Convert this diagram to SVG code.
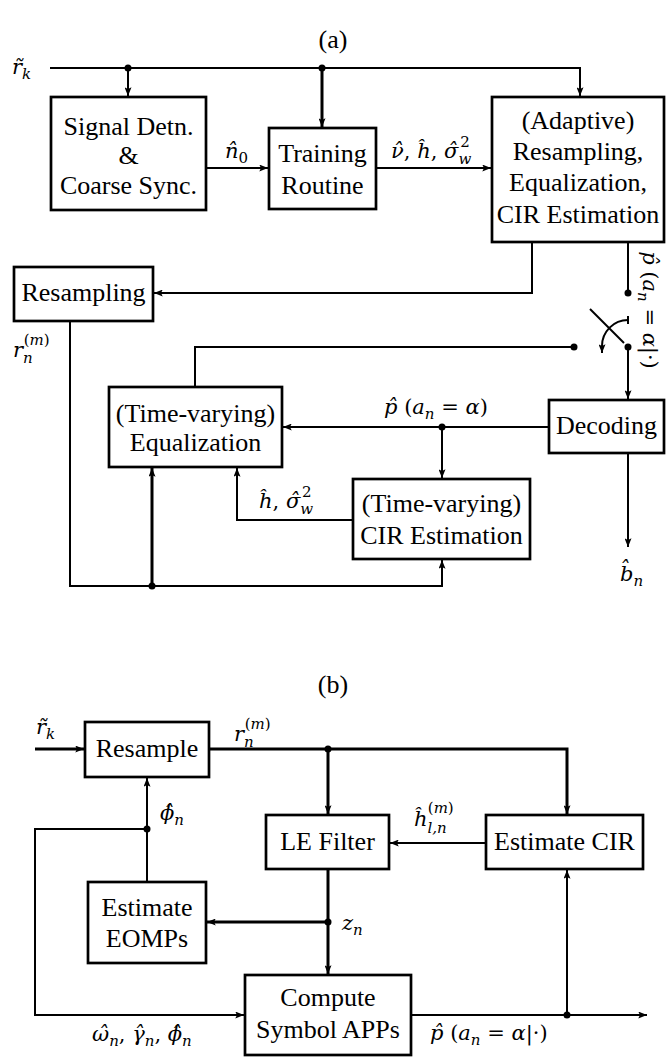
<svg xmlns="http://www.w3.org/2000/svg" width="666" height="1057" viewBox="0 0 666 1057" font-family="Liberation Serif, serif">
<style>
.bx{fill:#fff;stroke:#000;stroke-width:2.7}
.nd text,.ttl{font-family:"Liberation Serif","Times New Roman",serif;font-size:26px;text-anchor:middle;fill:#000}
.m{font-family:"DejaVu Serif","Liberation Serif",serif;font-size:21px;font-style:italic;fill:#000}
.up{font-style:normal}
.s{font-size:15px}
.c path{fill:none;stroke:#000;stroke-width:2}
.c path.k{stroke-width:3}
.c circle{fill:#000}
</style>
<defs>
<marker id="a" viewBox="0 0 10 8" refX="10" refY="4" markerWidth="9" markerHeight="7" markerUnits="userSpaceOnUse" orient="auto"><path d="M0,0 L10,4 L0,8 L2,4 z" fill="#000"/></marker>
</defs>

<text class="ttl" x="333" y="48">(a)</text>
<text class="ttl" x="333" y="693">(b)</text>

<g class="c" id="connectors">
<path d="M50,68 H580 V96" marker-end="url(#a)"/>
<path d="M128,68 V96" marker-end="url(#a)"/>
<path class="k" d="M322,68 V127" marker-end="url(#a)"/>
<path d="M206,168 H268" marker-end="url(#a)"/>
<path d="M376,168 H491" marker-end="url(#a)"/>
<path d="M532,242 V293 H154" marker-end="url(#a)"/>
<path d="M628,242 V293"/>
<path d="M590,309 L624,343"/>
<path d="M628,316 V324"/>
<path d="M628,320 A26,26 0 0 0 602,346 V353" marker-end="url(#a)"/>
<path d="M574,347 H195 V387"/>
<path d="M628,347 V399" marker-end="url(#a)"/>
<path d="M549,427 H283" marker-end="url(#a)"/>
<path d="M442,427 V478" marker-end="url(#a)"/>
<path d="M353,520 H237 V468" marker-end="url(#a)"/>
<path d="M70,321 V586 H442 V560" marker-end="url(#a)"/>
<path class="k" d="M152,586 V468" marker-end="url(#a)"/>
<path d="M628,453 V547" marker-end="url(#a)"/>
<circle cx="128" cy="68" r="3.5"/>
<circle cx="322" cy="68" r="3.5"/>
<circle cx="628" cy="293" r="3.5"/>
<circle cx="574" cy="347" r="3.5"/>
<circle cx="628" cy="347" r="3.5"/>
<circle cx="442" cy="427" r="3.5"/>
<circle cx="152" cy="586" r="3.5"/>

<path class="k" d="M35,749 H84" marker-end="url(#a)"/>
<path class="k" d="M209,749 H567 V814" marker-end="url(#a)"/>
<path class="k" d="M328,749 V814" marker-end="url(#a)"/>
<path d="M486,843 H390" marker-end="url(#a)"/>
<path class="k" d="M328,869 V974" marker-end="url(#a)"/>
<path class="k" d="M328,922 H207" marker-end="url(#a)"/>
<path d="M147,882 V778" marker-end="url(#a)"/>
<path d="M147,829 H35 V1015 H244" marker-end="url(#a)"/>
<path d="M411,1015 H647" marker-end="url(#a)"/>
<path d="M567,1015 V870" marker-end="url(#a)"/>
<circle cx="328" cy="749" r="3.5"/>
<circle cx="328" cy="922" r="3.5"/>
<circle cx="147" cy="829" r="3.5"/>
<circle cx="567" cy="1015" r="3.5"/>
</g>

<g id="sigdet" class="nd"><rect class="bx" x="51" y="97" width="155" height="113"/>
<text x="128.5" y="135">Signal Detn.</text><text x="128.5" y="164">&amp;</text><text x="128.5" y="194">Coarse Sync.</text></g>
<g id="training" class="nd"><rect class="bx" x="269" y="128" width="107" height="81"/>
<text x="322.5" y="162">Training</text><text x="322.5" y="194">Routine</text></g>
<g id="adaptive" class="nd"><rect class="bx" x="492" y="97" width="172" height="145"/>
<text x="578" y="129">(Adaptive)</text><text x="578" y="160">Resampling,</text><text x="578" y="191">Equalization,</text><text x="578" y="223">CIR Estimation</text></g>
<g id="resampling" class="nd"><rect class="bx" x="14" y="267" width="139" height="54"/>
<text x="83.5" y="301">Resampling</text></g>
<g id="tveq" class="nd"><rect class="bx" x="109" y="387" width="173" height="80"/>
<text x="195.5" y="422">(Time-varying)</text><text x="195.5" y="451">Equalization</text></g>
<g id="tvcir" class="nd"><rect class="bx" x="353" y="479" width="177" height="80"/>
<text x="441.5" y="512">(Time-varying)</text><text x="441.5" y="544">CIR Estimation</text></g>
<g id="decoding" class="nd"><rect class="bx" x="549" y="400" width="115" height="53"/>
<text x="606.5" y="434">Decoding</text></g>

<g id="resample" class="nd"><rect class="bx" x="85" y="722" width="124" height="55"/>
<text x="147" y="757">Resample</text></g>
<g id="lefilter" class="nd"><rect class="bx" x="266" y="815" width="123" height="54"/>
<text x="327.5" y="850">LE Filter</text></g>
<g id="estcir" class="nd"><rect class="bx" x="486" y="815" width="157" height="54"/>
<text x="564.5" y="850">Estimate CIR</text></g>
<g id="eomps" class="nd"><rect class="bx" x="88" y="882" width="118" height="81"/>
<text x="147" y="916">Estimate</text><text x="147" y="947">EOMPs</text></g>
<g id="compute" class="nd"><rect class="bx" x="245" y="975" width="166" height="80"/>
<text x="328" y="1006">Compute</text><text x="328" y="1038">Symbol APPs</text></g>

<g id="labels">
<text class="m" x="12" y="74">r̃<tspan class="s" dy="5">k</tspan></text>
<text class="m" x="225" y="158">n̂<tspan class="s up" dy="5">0</tspan></text>
<text class="m" x="391" y="158">ν̂<tspan class="up">, </tspan>ĥ<tspan class="up">, </tspan>σ̂<tspan class="s" dy="6">w</tspan><tspan class="s up" dx="-11" dy="-17">2</tspan></text>
<text class="m" x="13" y="357">r<tspan class="s" dy="6">n</tspan><tspan class="s up" dx="-9" dy="-18">(</tspan><tspan class="s">m</tspan><tspan class="s up">)</tspan></text>
<text class="m" x="384" y="414">p̂<tspan class="up"> (</tspan>a<tspan class="s" dy="5">n</tspan><tspan class="up" dy="-5"> = </tspan>α<tspan class="up">)</tspan></text>
<text class="m" x="259" y="508">ĥ<tspan class="up">, </tspan>σ̂<tspan class="s" dy="6">w</tspan><tspan class="s up" dx="-11" dy="-17">2</tspan></text>
<text class="m" x="620" y="581">b̂<tspan class="s" dy="5">n</tspan></text>
<text class="m" transform="translate(643,310) rotate(90)" x="0" y="0" text-anchor="middle">p̂<tspan class="up"> (</tspan>a<tspan class="s" dy="5">n</tspan><tspan class="up" dy="-5"> = </tspan>α<tspan class="up">|·)</tspan></text>

<text class="m" x="36" y="734">r̃<tspan class="s" dy="5">k</tspan></text>
<text class="m" x="234" y="741">r<tspan class="s" dy="6">n</tspan><tspan class="s up" dx="-9" dy="-18">(</tspan><tspan class="s">m</tspan><tspan class="s up">)</tspan></text>
<text class="m" x="160" y="820">ϕ̂<tspan class="s" dy="5">n</tspan></text>
<text class="m" x="414" y="826">ĥ<tspan class="s" dy="7">l,n</tspan><tspan class="s up" dx="-19" dy="-20">(</tspan><tspan class="s">m</tspan><tspan class="s up">)</tspan></text>
<text class="m" x="342" y="930">z<tspan class="s" dy="5">n</tspan></text>
<text class="m" x="430" y="1040">p̂<tspan class="up"> (</tspan>a<tspan class="s" dy="5">n</tspan><tspan class="up" dy="-5"> = </tspan>α<tspan class="up">|·)</tspan></text>
<text class="m" x="92" y="1041">ω̂<tspan class="s" dy="5">n</tspan><tspan class="up" dy="-5">, </tspan>γ̂<tspan class="s" dy="5">n</tspan><tspan class="up" dy="-5">, </tspan>ϕ̂<tspan class="s" dy="5">n</tspan></text>
</g>
</svg>
